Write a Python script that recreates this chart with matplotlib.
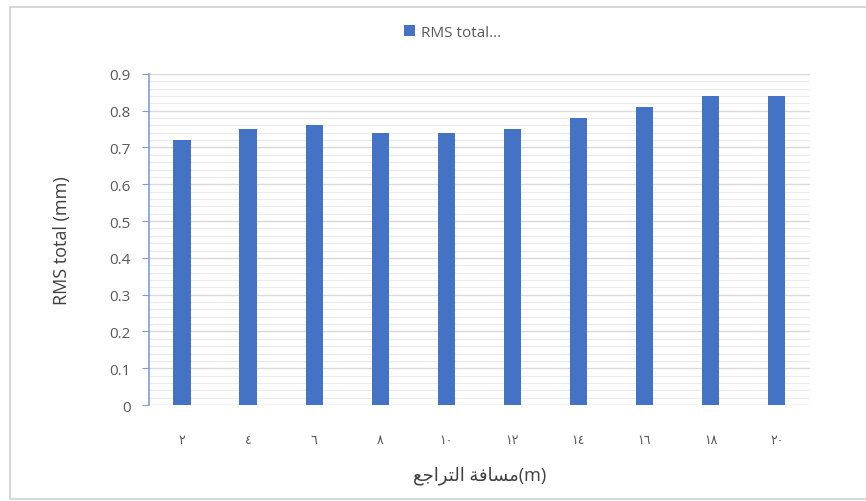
import matplotlib
matplotlib.use("Agg")
import matplotlib.pyplot as plt
from matplotlib.patches import Rectangle
import numpy as np

# data
categories = ["\u0662", "\u0664", "\u0666", "\u0668", "\u0661\u0660",
              "\u0661\u0662", "\u0661\u0664", "\u0661\u0666", "\u0661\u0668", "\u0662\u0660"]
rms_total = [0.72, 0.75, 0.76, 0.74, 0.74, 0.75, 0.78, 0.81, 0.84, 0.84]
y_ticks = [0, 0.1, 0.2, 0.3, 0.4, 0.5, 0.6, 0.7, 0.8, 0.9]

# "مسافة التراجع(m)" written in presentation forms, visual order
x_label = ("\uFECA\uFE9F\uFE8D\uFEAE\uFE98\uFEDF\uFE8D "
           "\uFE94\uFED3\uFE8E\uFEB4\uFEE3(m)")

plt.rcParams['font.family'] = ['Open Sans', 'DejaVu Sans']

fig = plt.figure(figsize=(8.66, 5.02), dpi=100)
fig.patch.set_facecolor('white')
# outer chart border
fig.patches.append(Rectangle((10 / 866, 2 / 502), 1.0, 492 / 502,
                             transform=fig.transFigure, fill=False,
                             edgecolor='#d0d0d0', linewidth=1.2))

ax = fig.add_axes([0.172, 0.191, 0.763, 0.660])
x = np.arange(len(categories))
ax.bar(x, rms_total, width=0.26, color='#4472C4', label='RMS total...', zorder=3)

ax.set_xlim(-0.5, len(categories) - 0.5)
ax.set_ylim(0, 0.9)
ax.set_yticks(y_ticks)
ax.set_yticklabels([("%g" % v) for v in y_ticks])
ax.set_yticks(np.arange(0, 0.9, 0.02), minor=True)
ax.grid(axis='y', which='major', color='#d9d9d9', linewidth=1.0, zorder=0)
ax.grid(axis='y', which='minor', color='#ebebeb', linewidth=0.8, zorder=0)

ax.set_xticks(x)
ax.set_xticklabels(categories, family='DejaVu Sans', fontsize=9, color='#595959')
ax.tick_params(axis='x', length=0, pad=20)
ax.tick_params(axis='y', which='major', length=5, color='#7f9fcf', labelsize=11,
               labelcolor='#595959', pad=8)
ax.tick_params(axis='y', which='minor', length=0)

for s in ['top', 'right', 'bottom']:
    ax.spines[s].set_visible(False)
ax.spines['left'].set_color('#7f9fcf')
ax.spines['left'].set_linewidth(1.2)

ax.set_ylabel('RMS total (mm)', fontsize=13, color='#404040', labelpad=28)
ax.set_xlabel(x_label, fontsize=13, color='#404040', labelpad=14)

ax.legend(loc='lower center', bbox_to_anchor=(0.46, 1.06), frameon=False,
          fontsize=11, handlelength=0.7, handleheight=0.7, handletextpad=0.4,
          labelcolor='#595959')

fig.savefig('out.png', dpi=100)
